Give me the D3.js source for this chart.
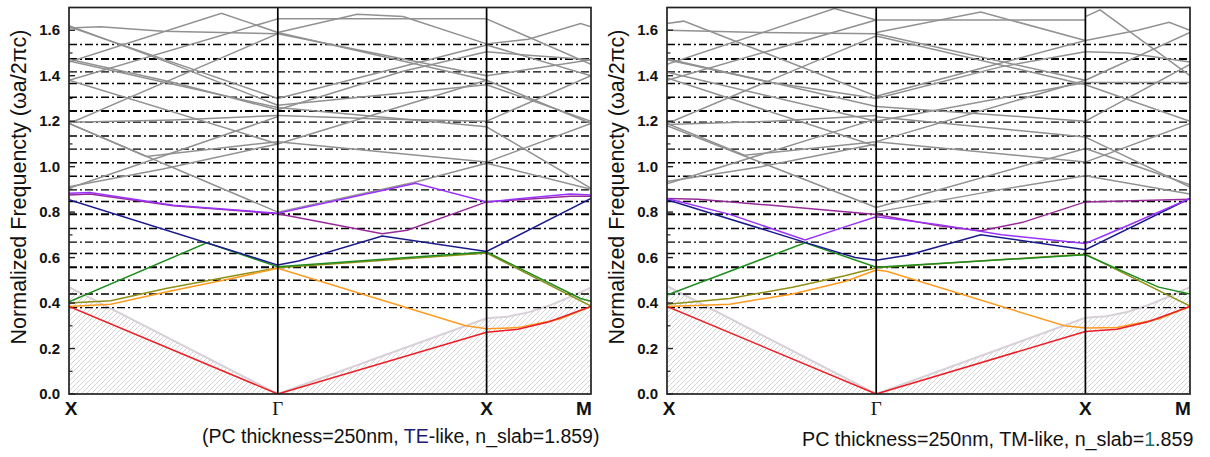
<!DOCTYPE html>
<html>
<head>
<meta charset="utf-8">
<script src="https://cdn.jsdelivr.net/npm/d3@7/dist/d3.min.js"></script>
<style>
body { margin: 0; background: #fff; }
</style>
</head>
<body>
<div id="chart"></div>
<script>
// k path: X=0, Γ=1, X=2, M=2.5
const kPoints = [0, 1, 2, 2.5];
const kLabels = ["X", "Γ", "X", "M"];
const yTicks = [0, 0.2, 0.4, 0.6, 0.8, 1.0, 1.2, 1.4, 1.6];
const yMinor = [0.1, 0.3, 0.5, 0.7, 0.9, 1.1, 1.3, 1.5];
const dashLevels = [0.38, 0.44, 0.50, 0.558, 0.618, 0.668, 0.728, 0.791, 0.847, 0.898, 0.958,
                    1.017, 1.077, 1.135, 1.196, 1.245, 1.305, 1.366, 1.417, 1.474, 1.537];
const heavyLevels = [0.558, 0.791, 1.245, 1.474];

// light line (edge of hatched light cone)
const lightTE = [[0, 0.47], [1, 0], [2, 0.333], [2.1, 0.34], [2.2, 0.359], [2.3, 0.389], [2.4, 0.427], [2.5, 0.468]];
const lightTM = [[0, 0.475], [1, 0], [2, 0.335], [2.1, 0.342], [2.2, 0.361], [2.3, 0.391], [2.4, 0.429], [2.5, 0.47]];

// TE-like coloured bands
const teRed = [[0, 0.385], [1, 0], [2, 0.272], [2.15, 0.285], [2.3, 0.318], [2.5, 0.385]];
const teOrange = [[0, 0.385], [0.2, 0.395], [0.47, 0.45], [0.79, 0.51], [1, 0.553], [1.9, 0.3], [2, 0.287], [2.15, 0.292], [2.35, 0.33], [2.5, 0.385]];
const teOlive = [[0, 0.40], [0.2, 0.41], [0.47, 0.465], [0.79, 0.52], [1, 0.555], [2, 0.62], [2.5, 0.387]];
const teGreen = [[0, 0.405], [0.66, 0.665], [1, 0.56], [2, 0.625], [2.45, 0.42], [2.5, 0.408]];
const teBlue = [[0, 0.855], [1, 0.567], [1.1, 0.585], [1.5, 0.695], [2, 0.627], [2.5, 0.86]];
const teViolet = [[0, 0.883], [0.1, 0.886], [0.5, 0.83], [1, 0.795], [1.66, 0.927], [2, 0.845], [2.4, 0.88], [2.5, 0.875]];
const teMagenta = [[0, 0.875], [0.1, 0.88], [0.5, 0.828], [1, 0.793], [1.5, 0.705], [1.62, 0.72], [2, 0.845], [2.4, 0.87], [2.5, 0.87]];

// TE-like gray (higher) bands
const teGray = [
  [[0, 0.905], [1, 1.22]],
  [[0, 0.912], [0.45, 0.99], [1, 1.10]],
  [[0, 1.19], [1, 0.80]],
  [[0, 1.19], [0.37, 1.045], [1, 1.11]],
  [[0, 1.195], [0.5, 1.205], [1, 1.225]],
  [[0, 1.19], [1, 1.585]],
  [[0, 1.38], [1, 1.10]],
  [[0, 1.38], [1, 1.65]],
  [[0, 1.465], [1, 1.26]],
  [[0, 1.472], [0.5, 1.37], [1, 1.25]],
  [[0, 1.46], [0.73, 1.675], [1, 1.59]],
  [[0, 1.615], [1, 1.30]],
  [[0, 1.61], [0.15, 1.615], [0.45, 1.595], [1, 1.585]],
  [[0, 1.62], [0.5, 1.45], [1, 1.27]],
  [[1, 0.80], [1.65, 0.93], [2, 1.015]],
  [[1, 1.11], [2, 1.02]],
  [[1, 1.10], [2, 1.38]],
  [[1, 1.225], [1.5, 1.21], [2, 1.20]],
  [[1, 1.26], [2, 1.175]],
  [[1, 1.27], [2, 1.36]],
  [[1, 1.30], [2, 1.535]],
  [[1, 1.25], [1.6, 1.42], [2, 1.505]],
  [[1, 1.585], [2, 1.40]],
  [[1, 1.59], [2, 1.38]],
  [[1, 1.65], [2, 1.65]],
  [[1, 1.59], [1.38, 1.67], [1.6, 1.66], [2, 1.54]],
  [[2, 1.015], [2.5, 0.90]],
  [[2, 1.02], [2.5, 1.19]],
  [[2, 1.175], [2.5, 0.905]],
  [[2, 1.20], [2.5, 1.40]],
  [[2, 1.38], [2.5, 1.19]],
  [[2, 1.36], [2.5, 1.20]],
  [[2, 1.40], [2.5, 1.47]],
  [[2, 1.505], [2.2, 1.49], [2.5, 1.47]],
  [[2, 1.535], [2.5, 1.40]],
  [[2, 1.65], [2.5, 1.45]],
  [[2, 1.54], [2.2, 1.56], [2.45, 1.63], [2.5, 1.615]]
];

// TM-like coloured bands
const tmRed = [[0, 0.385], [1, 0], [2, 0.275], [2.15, 0.285], [2.3, 0.318], [2.5, 0.385]];
const tmOrange = [[0, 0.385], [0.3, 0.395], [0.6, 0.44], [0.85, 0.495], [1, 0.545], [1.05, 0.54], [1.9, 0.3], [2, 0.29], [2.15, 0.293], [2.35, 0.33], [2.5, 0.385]];
const tmOlive = [[0, 0.395], [0.3, 0.42], [0.6, 0.47], [0.85, 0.52], [1, 0.555], [2, 0.615], [2.5, 0.387]];
const tmGreen = [[0, 0.435], [0.66, 0.665], [1, 0.558], [2, 0.612], [2.35, 0.47], [2.5, 0.44]];
const tmBlue = [[0, 0.855], [0.66, 0.667], [0.9, 0.6], [1, 0.588], [1.15, 0.61], [1.5, 0.70], [2, 0.635], [2.5, 0.86]];
const tmViolet = [[0, 0.86], [0.3, 0.79], [0.66, 0.677], [0.85, 0.735], [1, 0.78], [1.3, 0.745], [1.6, 0.70], [2, 0.662], [2.2, 0.74], [2.5, 0.86]];
const tmMagenta = [[0, 0.86], [0.15, 0.857], [0.5, 0.83], [1, 0.79], [1.3, 0.74], [1.5, 0.718], [1.7, 0.755], [2, 0.845], [2.5, 0.857]];

// TM-like gray bands
const tmGray = [
  [[0, 0.925], [1, 1.21]],
  [[0, 0.935], [0.45, 1.0], [1, 1.10]],
  [[0, 1.18], [1, 0.82]],
  [[0, 1.19], [0.37, 1.05], [1, 1.11]],
  [[0, 1.185], [0.5, 1.20], [1, 1.225]],
  [[0, 1.19], [1, 1.575]],
  [[0, 1.39], [1, 1.09]],
  [[0, 1.38], [1, 1.645]],
  [[0, 1.475], [1, 1.265]],
  [[0, 1.47], [0.5, 1.37], [1, 1.30]],
  [[0, 1.45], [0.8, 1.695], [1, 1.645]],
  [[0, 1.63], [0.08, 1.64], [1, 1.31]],
  [[0, 1.60], [0.45, 1.59], [1, 1.585]],
  [[0, 1.415], [1, 1.20]],
  [[1, 0.82], [2, 1.08]],
  [[1, 0.80], [1.6, 0.90], [2, 0.96]],
  [[1, 1.11], [2, 1.02]],
  [[1, 1.11], [2, 1.38]],
  [[1, 1.22], [2, 1.13]],
  [[1, 1.265], [2, 1.20]],
  [[1, 1.20], [2, 1.37]],
  [[1, 1.30], [1.6, 1.44], [2, 1.505]],
  [[1, 1.31], [2, 1.555]],
  [[1, 1.585], [2, 1.38]],
  [[1, 1.575], [2, 1.36]],
  [[1, 1.645], [2, 1.645]],
  [[1, 1.59], [1.5, 1.68], [2, 1.555]],
  [[2, 1.66], [2.07, 1.69], [2.5, 1.40]],
  [[2, 1.555], [2.25, 1.60], [2.4, 1.635], [2.5, 1.60]],
  [[2, 1.505], [2.2, 1.50], [2.5, 1.46]],
  [[2, 1.38], [2.5, 1.59]],
  [[2, 1.37], [2.5, 1.37]],
  [[2, 1.20], [2.5, 1.45]],
  [[2, 1.13], [2.5, 0.91]],
  [[2, 1.02], [2.5, 1.19]],
  [[2, 1.08], [2.5, 0.92]],
  [[2, 0.96], [2.5, 0.88]],
  [[2, 1.36], [2.5, 1.20]]
];

const bandColors = {
  red: "#ec1c24", orange: "#ff9a1e", olive: "#8f8f14", green: "#1e8c1e",
  blue: "#1a1a8c", violet: "#9a32ff", magenta: "#982a98"
};

const width = 1210, height = 457;
const svg = d3.select("#chart").append("svg")
  .attr("width", width).attr("height", height)
  .style("font-family", "Arial, 'Liberation Sans', sans-serif");

// hatch pattern for light cone
const defs = svg.append("defs");
const pat = defs.append("pattern")
  .attr("id", "hatch").attr("patternUnits", "userSpaceOnUse")
  .attr("width", 5).attr("height", 5);
pat.append("path").attr("d", "M-1,1 l2,-2 M0,5 l5,-5 M4,6 l2,-2")
  .attr("stroke", "#c2c2c2").attr("stroke-width", 0.7);

function drawPanel(p) {
  const x = d3.scaleLinear().domain([0, 2.5]).range([p.x0, p.x1]);
  const y = d3.scaleLinear().domain([0, 1.7]).range([394, 7.5]);
  const g = svg.append("g");

  defs.append("clipPath").attr("id", "clip" + p.id)
    .append("rect").attr("x", p.x0).attr("y", y(1.7))
    .attr("width", p.x1 - p.x0).attr("height", y(0) - y(1.7));

  const line = d3.line().x(d => x(d[0])).y(d => y(d[1]));

  // hatched light cone
  const cone = p.light.concat([[2.5, 0], [0, 0]]);
  g.append("path").attr("d", line(cone) + "Z")
    .attr("fill", "url(#hatch)").attr("stroke", "none");
  g.append("path").attr("d", line(p.light))
    .attr("fill", "none").attr("stroke", "#d8d0d8").attr("stroke-width", 2);

  // dash-dot levels
  g.selectAll(".lvl").data(dashLevels).enter().append("line")
    .attr("x1", p.x0).attr("x2", p.x1)
    .attr("y1", d => y(d)).attr("y2", d => y(d))
    .attr("stroke", "#000")
    .attr("stroke-width", d => heavyLevels.includes(d) ? 2 : 1.4)
    .attr("stroke-dasharray", "8,3,2,3");

  const bands = g.append("g").attr("clip-path", "url(#clip" + p.id + ")");
  bands.selectAll(".gray").data(p.gray).enter().append("path")
    .attr("d", line).attr("fill", "none")
    .attr("stroke", "#919191").attr("stroke-width", 1.5);

  p.colored.forEach(b => {
    bands.append("path").attr("d", line(b.data)).attr("fill", "none")
      .attr("stroke", bandColors[b.c]).attr("stroke-width", 1.5);
  });

  // vertical symmetry-point lines
  g.selectAll(".vl").data([1, 2]).enter().append("line")
    .attr("x1", d => x(d)).attr("x2", d => x(d))
    .attr("y1", y(0)).attr("y2", y(1.7))
    .attr("stroke", "#000").attr("stroke-width", 1.7);

  // frame
  g.append("rect").attr("x", p.x0).attr("y", y(1.7))
    .attr("width", p.x1 - p.x0).attr("height", y(0) - y(1.7))
    .attr("fill", "none").attr("stroke", "#222").attr("stroke-width", 1.7);

  // y ticks (inside)
  g.selectAll(".mt").data(yTicks).enter().append("line")
    .attr("x1", p.x0).attr("x2", p.x0 + 6)
    .attr("y1", d => y(d)).attr("y2", d => y(d))
    .attr("stroke", "#222").attr("stroke-width", 1.4);
  g.selectAll(".nt").data(yMinor).enter().append("line")
    .attr("x1", p.x0).attr("x2", p.x0 + 3.5)
    .attr("y1", d => y(d)).attr("y2", d => y(d))
    .attr("stroke", "#222").attr("stroke-width", 1.2);
  g.selectAll(".tl").data(yTicks).enter().append("text")
    .attr("x", p.x0 - 9).attr("y", d => y(d) + 5)
    .attr("text-anchor", "end").attr("font-weight", "bold")
    .attr("font-size", 15).attr("fill", "#111")
    .text(d => d3.format(".1f")(d));

  // axis title
  g.append("text")
    .attr("transform", "translate(" + (p.x0 - 43) + ",187) rotate(-90)")
    .attr("text-anchor", "middle").attr("font-size", 21.5).attr("fill", "#111")
    .text("Normalized Frequencty (ωa/2πc)");

  // k labels
  g.selectAll(".kl").data(kPoints).enter().append("text")
    .attr("x", (d, i) => i === 3 ? x(d) - 7 : x(d) + (i === 0 ? 2 : 0))
    .attr("y", 415)
    .attr("text-anchor", "middle")
    .attr("font-weight", (d, i) => i === 1 ? "normal" : "bold")
    .attr("font-family", (d, i) => i === 1 ? "'Liberation Serif', 'DejaVu Serif', serif" : null)
    .attr("font-size", (d, i) => i === 1 ? 19 : 19)
    .attr("fill", "#111")
    .text((d, i) => kLabels[i]);

  // caption
  const cap = g.append("text").attr("x", p.capX).attr("y", p.capY)
    .attr("font-size", p.capSize).attr("fill", "#111");
  p.caption.forEach(s => cap.append("tspan").attr("fill", s[1] || "#111").text(s[0]));
}

drawPanel({
  id: "te", x0: 69, x1: 591, light: lightTE, gray: teGray,
  colored: [
    { c: "olive", data: teOlive }, { c: "orange", data: teOrange }, { c: "red", data: teRed },
    { c: "green", data: teGreen }, { c: "blue", data: teBlue },
    { c: "magenta", data: teMagenta }, { c: "violet", data: teViolet }
  ],
  capX: 202, capY: 443, capSize: 19.5,
  caption: [["(PC thickness=250nm, "], ["TE", "#1c1c6e"], ["-like, n_slab=1.859)"]]
});

drawPanel({
  id: "tm", x0: 667, x1: 1190, light: lightTM, gray: tmGray,
  colored: [
    { c: "olive", data: tmOlive }, { c: "orange", data: tmOrange }, { c: "red", data: tmRed },
    { c: "green", data: tmGreen }, { c: "blue", data: tmBlue },
    { c: "magenta", data: tmMagenta }, { c: "violet", data: tmViolet }
  ],
  capX: 802, capY: 446, capSize: 19.7,
  caption: [["PC thickness=250"], ["n", "#1c1c6e"], ["m, TM-like, n_slab="], ["1", "#1a6e6e"], [".859"]]
});
</script>
</body>
</html>
